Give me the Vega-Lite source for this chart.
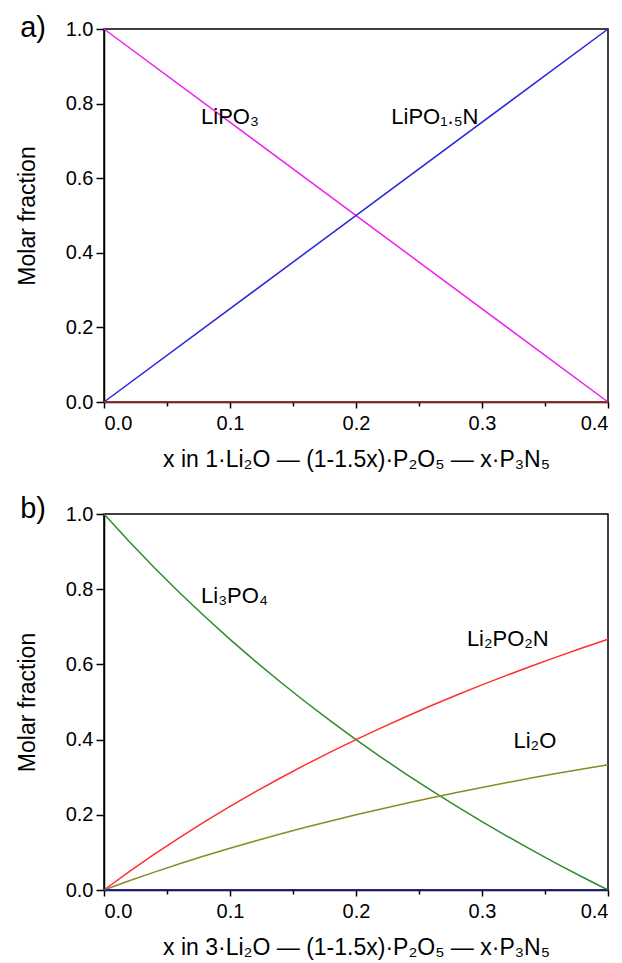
{
  "$schema": "https://vega.github.io/schema/vega-lite/v6.json",
  "background": "white",
  "padding": {"left": 15, "top": 13, "right": 0, "bottom": 0},
  "config": {
    "font": "Liberation Sans",
    "view": {"stroke": "black", "strokeWidth": 1.5},
    "axis": {
      "grid": false,
      "domainColor": "black",
      "domainWidth": 1.5,
      "tickColor": "black",
      "tickWidth": 1.5,
      "labelColor": "black",
      "labelFontSize": 20,
      "labelFont": "Liberation Sans",
      "titleColor": "black",
      "titleFontSize": 23,
      "titleFontWeight": "normal",
      "titleFont": "Liberation Sans",
      "labelPadding": 3
    },
    "title": {"fontSize": 29, "fontWeight": "normal", "color": "black", "font": "Liberation Sans"}
  },
  "resolve": {"scale": {"color": "independent"}},
  "spacing": 22,
  "vconcat": [
    {
      "width": 504,
      "height": 373,
      "title": {"text": "a)", "anchor": "start", "frame": "bounds", "dy": 28, "dx": 4},
      "layer": [
        {
          "data": {"values": [
            {"x": 0, "s": "LiPO3", "y": 1},
            {"x": 0.4, "s": "LiPO3", "y": 0},
            {"x": 0, "s": "LiPO1.5N", "y": 0},
            {"x": 0.4, "s": "LiPO1.5N", "y": 1},
            {"x": 0, "s": "base", "y": 0},
            {"x": 0.4, "s": "base", "y": 0}
          ]},
          "mark": {"type": "line", "strokeWidth": 1.5},
          "encoding": {
            "x": {"field": "x", "type": "quantitative", "scale": {"domain": [0, 0.4], "nice": false},
              "axis": {
                "values": [0, 0.05, 0.1, 0.15, 0.2, 0.25, 0.3, 0.35, 0.4],
                "labelExpr": "round(datum.value*100)%10==0 ? format(datum.value,'.1f') : ''",
                "tickSize": {"condition": {"test": "round(datum.value*100)%10==0", "value": 6}, "value": 4},
                "labelPadding": 5,
                "title": "x in 1·Li₂O — (1-1.5x)·P₂O₅ — x·P₃N₅",
                "titlePadding": 15
              }},
            "y": {"field": "y", "type": "quantitative", "scale": {"domain": [0, 1], "nice": false},
              "axis": {
                "values": [0, 0.1, 0.2, 0.3, 0.4, 0.5, 0.6, 0.7, 0.8, 0.9, 1.0],
                "labelExpr": "round(datum.value*10)%2==0 ? format(datum.value,'.1f') : ''",
                "tickSize": {"condition": {"test": "round(datum.value*10)%2==0", "value": 8}, "value": 5},
                "labelPadding": 3,
                "title": "Molar fraction",
                "titlePadding": 26
              }},
            "color": {"field": "s", "type": "nominal", "legend": null,
              "scale": {"domain": ["LiPO3", "LiPO1.5N", "base"], "range": ["#ee22ee", "#2626dd", "#b03030"]}}
          }
        },
        {
          "data": {"values": [
            {"x": 0.077, "y": 0.765, "t": "LiPO₃"},
            {"x": 0.228, "y": 0.765, "t": "LiPO₁.₅N"}
          ]},
          "mark": {"type": "text", "align": "left", "baseline": "middle", "fontSize": 22, "color": "black"},
          "encoding": {
            "x": {"field": "x", "type": "quantitative"},
            "y": {"field": "y", "type": "quantitative"},
            "text": {"field": "t"}
          }
        }
      ]
    },
    {
      "width": 504,
      "height": 376,
      "title": {"text": "b)", "anchor": "start", "frame": "bounds", "dy": 24, "dx": 4},
      "layer": [
        {
          "data": {"values": [
            {"x": 0, "Li3PO4": 1, "Li2PO2N": 0, "Li2O": 0, "base": 0},
            {"x": 0.02, "Li3PO4": 0.92683, "Li2PO2N": 0.04878, "Li2O": 0.02439, "base": 0},
            {"x": 0.04, "Li3PO4": 0.85714, "Li2PO2N": 0.09524, "Li2O": 0.04762, "base": 0},
            {"x": 0.06, "Li3PO4": 0.7907, "Li2PO2N": 0.13953, "Li2O": 0.06977, "base": 0},
            {"x": 0.08, "Li3PO4": 0.72727, "Li2PO2N": 0.18182, "Li2O": 0.09091, "base": 0},
            {"x": 0.1, "Li3PO4": 0.66667, "Li2PO2N": 0.22222, "Li2O": 0.11111, "base": 0},
            {"x": 0.12, "Li3PO4": 0.6087, "Li2PO2N": 0.26087, "Li2O": 0.13043, "base": 0},
            {"x": 0.14, "Li3PO4": 0.55319, "Li2PO2N": 0.29787, "Li2O": 0.14894, "base": 0},
            {"x": 0.16, "Li3PO4": 0.5, "Li2PO2N": 0.33333, "Li2O": 0.16667, "base": 0},
            {"x": 0.18, "Li3PO4": 0.44898, "Li2PO2N": 0.36735, "Li2O": 0.18367, "base": 0},
            {"x": 0.2, "Li3PO4": 0.4, "Li2PO2N": 0.4, "Li2O": 0.2, "base": 0},
            {"x": 0.22, "Li3PO4": 0.35294, "Li2PO2N": 0.43137, "Li2O": 0.21569, "base": 0},
            {"x": 0.24, "Li3PO4": 0.30769, "Li2PO2N": 0.46154, "Li2O": 0.23077, "base": 0},
            {"x": 0.26, "Li3PO4": 0.26415, "Li2PO2N": 0.49057, "Li2O": 0.24528, "base": 0},
            {"x": 0.28, "Li3PO4": 0.22222, "Li2PO2N": 0.51852, "Li2O": 0.25926, "base": 0},
            {"x": 0.3, "Li3PO4": 0.18182, "Li2PO2N": 0.54545, "Li2O": 0.27273, "base": 0},
            {"x": 0.32, "Li3PO4": 0.14286, "Li2PO2N": 0.57143, "Li2O": 0.28571, "base": 0},
            {"x": 0.34, "Li3PO4": 0.10526, "Li2PO2N": 0.59649, "Li2O": 0.29825, "base": 0},
            {"x": 0.36, "Li3PO4": 0.06897, "Li2PO2N": 0.62069, "Li2O": 0.31034, "base": 0},
            {"x": 0.38, "Li3PO4": 0.0339, "Li2PO2N": 0.64407, "Li2O": 0.32203, "base": 0},
            {"x": 0.4, "Li3PO4": 0, "Li2PO2N": 0.66667, "Li2O": 0.33333, "base": 0}
          ]},
          "transform": [{"fold": ["Li3PO4", "Li2PO2N", "Li2O", "base"], "as": ["s", "y"]}],
          "mark": {"type": "line", "strokeWidth": 1.5},
          "encoding": {
            "x": {"field": "x", "type": "quantitative", "scale": {"domain": [0, 0.4], "nice": false},
              "axis": {
                "values": [0, 0.05, 0.1, 0.15, 0.2, 0.25, 0.3, 0.35, 0.4],
                "labelExpr": "round(datum.value*100)%10==0 ? format(datum.value,'.1f') : ''",
                "tickSize": {"condition": {"test": "round(datum.value*100)%10==0", "value": 6}, "value": 4},
                "labelPadding": 5,
                "title": "x in 3·Li₂O — (1-1.5x)·P₂O₅ — x·P₃N₅",
                "titlePadding": 15
              }},
            "y": {"field": "y", "type": "quantitative", "scale": {"domain": [0, 1], "nice": false},
              "axis": {
                "values": [0, 0.1, 0.2, 0.3, 0.4, 0.5, 0.6, 0.7, 0.8, 0.9, 1.0],
                "labelExpr": "round(datum.value*10)%2==0 ? format(datum.value,'.1f') : ''",
                "tickSize": {"condition": {"test": "round(datum.value*10)%2==0", "value": 8}, "value": 5},
                "labelPadding": 3,
                "title": "Molar fraction",
                "titlePadding": 26
              }},
            "color": {"field": "s", "type": "nominal", "legend": null,
              "scale": {"domain": ["Li3PO4", "Li2PO2N", "Li2O", "base"], "range": ["#2e8b2e", "#ff3030", "#8b8b22", "#2020a0"]}}
          }
        },
        {
          "data": {"values": [
            {"x": 0.077, "y": 0.783, "t": "Li₃PO₄"},
            {"x": 0.288, "y": 0.667, "t": "Li₂PO₂N"},
            {"x": 0.325, "y": 0.397, "t": "Li₂O"}
          ]},
          "mark": {"type": "text", "align": "left", "baseline": "middle", "fontSize": 22, "color": "black"},
          "encoding": {
            "x": {"field": "x", "type": "quantitative"},
            "y": {"field": "y", "type": "quantitative"},
            "text": {"field": "t"}
          }
        }
      ]
    }
  ]
}
